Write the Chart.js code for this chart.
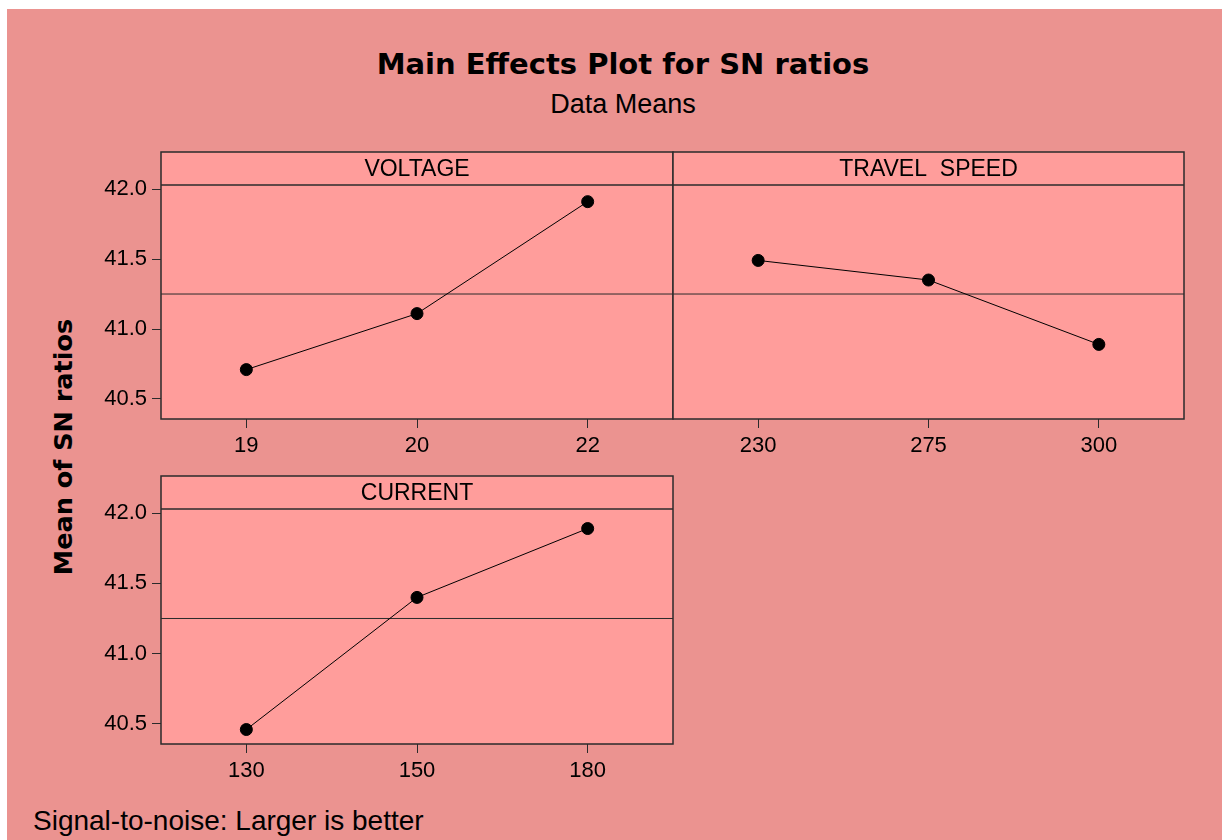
<!DOCTYPE html>
<html lang="en">

<head>
    <meta charset="UTF-8">
    <title>Main Effects Plot for SN ratios</title>
    <script src="https://cdn.jsdelivr.net/npm/chart.js"></script>
    <style>
        body { margin: 0; width: 1222px; height: 840px; background: #fff; position: relative; overflow: hidden; }
        .fundo { position: absolute; left: 7px; top: 9px; right: 0; bottom: 0; background: #eb9390; }
        canvas { position: absolute; left: 0; top: 0; }
        .txt { position: absolute; color: #000; white-space: nowrap; }
        #titulo { left: 323px; width: 600px; top: 50px; text-align: center; font: bold 29px/29px "DejaVu Sans"; }
        #subtitulo { left: 323px; width: 600px; top: 91px; text-align: center; font: 27px/27px "Liberation Sans"; }
        #eixoY { left: -87px; width: 300px; top: 434px; text-align: center; font: bold 25.5px/26px "DejaVu Sans"; transform: rotate(-90deg); }
        #rodape { left: 33px; top: 807px; font: 28px/28px "Liberation Sans"; }
    </style>
</head>

<body>
    <div class="fundo"></div>
    <div class="txt" id="titulo">Main Effects Plot for SN ratios</div>
    <div class="txt" id="subtitulo">Data Means</div>
    <div class="txt" id="eixoY">Mean of SN ratios</div>
    <div class="txt" id="rodape">Signal-to-noise: Larger is better</div>

    <canvas id="voltage" width="1222" height="840"></canvas>
    <canvas id="speed" width="1222" height="840"></canvas>
    <canvas id="current" width="1222" height="840"></canvas>

<script>
    // valores
    const voltageLevels = ['19', '20', '22'];
    const voltageSN = [40.71, 41.11, 41.91];

    const speedLevels = ['230', '275', '300'];
    const speedSN = [41.49, 41.35, 40.89];

    const currentLevels = ['130', '150', '180'];
    const currentSN = [40.46, 41.40, 41.89];

    const grandMean = 41.25;
    const yTicks = [40.5, 41.0, 41.5, 42.0];

    const corPainel = '#ff9d9b';
    const corLinha = '#2b2b2b';
    const alturaFaixa = 33;

    // fundo do painel, faixa com o nome e linha da media
    const painelPlugin = {
        id: 'painel',
        beforeDraw(chart) {
            const a = chart.chartArea;
            const ctx = chart.ctx;
            ctx.save();
            ctx.fillStyle = corPainel;
            ctx.fillRect(a.left, a.top - alturaFaixa, a.right - a.left, a.bottom - a.top + alturaFaixa);
            ctx.restore();
        },
        beforeDatasetsDraw(chart) {
            const a = chart.chartArea;
            const ctx = chart.ctx;
            const y = chart.scales.y.getPixelForValue(grandMean);
            ctx.save();
            ctx.strokeStyle = corLinha;
            ctx.lineWidth = 1;
            ctx.beginPath();
            ctx.moveTo(a.left, y);
            ctx.lineTo(a.right, y);
            ctx.stroke();
            ctx.restore();
        },
        afterDraw(chart, args, opts) {
            const a = chart.chartArea;
            const ctx = chart.ctx;
            ctx.save();
            ctx.strokeStyle = corLinha;
            ctx.lineWidth = 1.5;
            ctx.strokeRect(a.left, a.top - alturaFaixa, a.right - a.left, a.bottom - a.top + alturaFaixa);
            ctx.beginPath();
            ctx.moveTo(a.left, a.top);
            ctx.lineTo(a.right, a.top);
            ctx.stroke();
            ctx.fillStyle = '#000';
            ctx.font = '23px "Liberation Sans"';
            ctx.textAlign = 'center';
            ctx.textBaseline = 'middle';
            ctx.fillText(opts.nome, (a.left + a.right) / 2, a.top - alturaFaixa / 2 + 1);
            ctx.restore();
        }
    };

    function criarPainel(id, nome, niveis, valores, area, mostrarY) {
        const larguraY = mostrarY ? 60 : 0;
        const alturaX = 50;

        new Chart(document.getElementById(id), {
            type: 'line',
            data: {
                labels: niveis,
                datasets: [{
                    data: valores,
                    borderColor: '#000',
                    borderWidth: 1,
                    pointRadius: 6,
                    pointBackgroundColor: '#000',
                    pointBorderColor: '#000',
                    pointBorderWidth: 1,
                    tension: 0
                }]
            },
            options: {
                responsive: false,
                devicePixelRatio: 1,
                animation: false,
                layout: {
                    padding: {
                        left: area.left - larguraY,
                        top: area.top,
                        right: 1222 - area.right,
                        bottom: 840 - area.bottom - alturaX
                    }
                },
                plugins: {
                    legend: { display: false },
                    tooltip: { enabled: false },
                    painel: { nome: nome }
                },
                scales: {
                    x: {
                        type: 'category',
                        offset: true,
                        afterFit: (s) => { s.height = alturaX; },
                        grid: { offset: false, drawOnChartArea: false, drawTicks: true, tickLength: 9, color: corLinha },
                        border: { display: false },
                        ticks: { color: '#000', padding: 5, font: { family: 'Liberation Sans', size: 22 }, maxRotation: 0 }
                    },
                    y: {
                        display: mostrarY,
                        min: 40.357,
                        max: 42.029,
                        afterFit: (s) => { s.width = larguraY; },
                        afterBuildTicks: (s) => { s.ticks = yTicks.map(v => ({ value: v })); },
                        grid: { drawOnChartArea: false, drawTicks: true, tickLength: 9, color: corLinha },
                        border: { display: false },
                        ticks: {
                            color: '#000',
                            padding: 5,
                            font: { family: 'Liberation Sans', size: 22 },
                            callback: (v) => Number(v).toFixed(1)
                        }
                    }
                }
            },
            plugins: [painelPlugin]
        });
    }

    criarPainel('voltage', 'VOLTAGE', voltageLevels, voltageSN, { left: 161, top: 185, right: 673, bottom: 419 }, true);
    criarPainel('speed', 'TRAVEL  SPEED', speedLevels, speedSN, { left: 673, top: 185, right: 1184, bottom: 419 }, false);
    criarPainel('current', 'CURRENT', currentLevels, currentSN, { left: 161, top: 509, right: 673, bottom: 744 }, true);
</script>
</body>

</html>
